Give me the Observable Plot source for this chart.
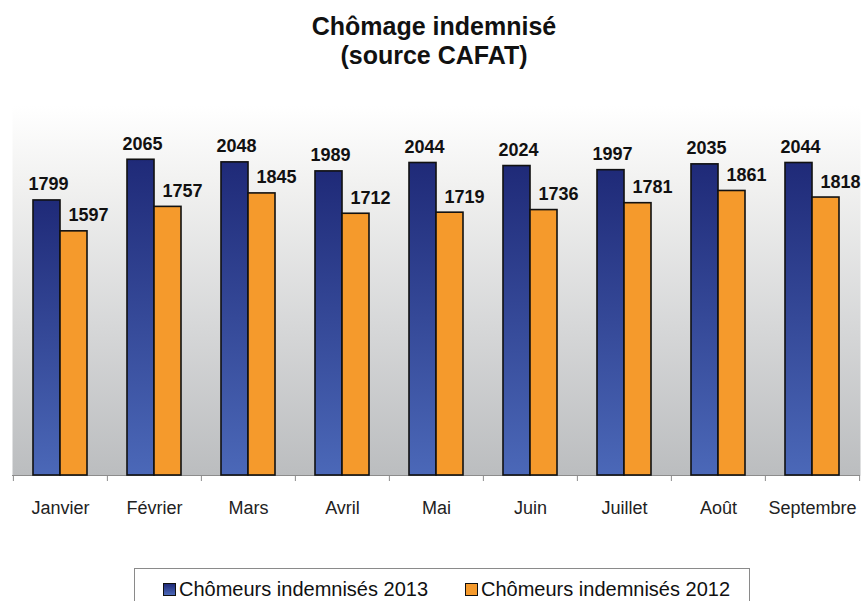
<!DOCTYPE html>
<html>
<head>
<meta charset="utf-8">
<script src="https://cdn.jsdelivr.net/npm/d3@7"></script>
<script src="https://cdn.jsdelivr.net/npm/@observablehq/plot@0.6"></script>
<style>
  html, body { margin: 0; padding: 0; background: #ffffff; }
  #page { position: relative; width: 862px; height: 601px; overflow: hidden; font-family: "Liberation Sans", Arial, sans-serif; }
  #title { position: absolute; left: 6px; top: 12px; width: 856px; text-align: center; font-weight: bold; font-size: 25px; line-height: 29px; color: #111; }
  #chart { position: absolute; left: 0; top: 90px; }
  #legend { position: absolute; left: 134px; top: 568px; width: 616px; height: 50px; box-sizing: border-box; border: 1px solid #8a8a8a; }
  .item { position: absolute; top: 9px; display: flex; align-items: center; font-size: 20px; line-height: 22px; color: #111; white-space: nowrap; }
  .sw { width: 11px; height: 11px; border: 1.5px solid #111; margin-right: 3px; }
</style>
</head>
<body>
<div id="page">
  <div id="title"></div>
  <div id="chart"></div>
  <div id="legend"></div>
</div>
<script>
const titleLines = ["Chômage indemnisé", "(source CAFAT)"];
const months = ["Janvier", "Février", "Mars", "Avril", "Mai", "Juin", "Juillet", "Août", "Septembre"];
const values2013 = [1799, 2065, 2048, 1989, 2044, 2024, 1997, 2035, 2044];
const values2012 = [1597, 1757, 1845, 1712, 1719, 1736, 1781, 1861, 1818];
const seriesNames = ["Chômeurs indemnisés 2013", "Chômeurs indemnisés 2012"];
const seriesColors = ["url(#blueGrad)", "#f59a2c"];

const rows2013 = months.map((m, i) => ({month: m, value: values2013[i]}));
const rows2012 = months.map((m, i) => ({month: m, value: values2012[i]}));

document.getElementById("title").innerHTML = titleLines.join("<br>");

const W = 862, H = 455, mL = 12, mR = 2;
const step = (W - mL - mR) / months.length;
const half = step * (1 - 0.427) / 2;

const chart = Plot.plot({
  width: W,
  height: H,
  marginTop: 15,
  marginBottom: 70,
  marginLeft: mL,
  marginRight: mR,
  style: {fontFamily: "'Liberation Sans', Arial, sans-serif", background: "transparent", overflow: "visible"},
  x: {domain: months, paddingInner: 0.427, paddingOuter: 0.2135, label: null},
  y: {domain: [0, 2420], axis: null},
  marks: [
    Plot.frame({fill: "url(#bgGrad)", stroke: "none"}),
    Plot.ruleY([0], {stroke: "#8c8c8c", strokeWidth: 1}),
    Plot.axisX({tickSize: 0, tickPadding: 26, fontSize: 18, fill: "#222", label: null}),
    Plot.axisX(months, {tickSize: 6, tickFormat: () => "", dx: -step / 2, stroke: "#8c8c8c", label: null}),
    Plot.axisX([months[months.length - 1]], {tickSize: 6, tickFormat: () => "", dx: step / 2, stroke: "#8c8c8c", label: null}),
    Plot.barY(rows2013, {x: "month", y: "value", fill: seriesColors[0], stroke: "#111", strokeWidth: 1.6, insetRight: half}),
    Plot.barY(rows2012, {x: "month", y: "value", fill: seriesColors[1], stroke: "#111", strokeWidth: 1.6, insetLeft: half}),
    Plot.text(rows2013, {x: "month", y: "value", text: d => String(d.value), dx: -half / 2 + 1.5, dy: -10, lineAnchor: "bottom", fontSize: 18, fontWeight: "bold", fill: "#111"}),
    Plot.text(rows2012, {x: "month", y: "value", text: d => String(d.value), dx: half / 2 + 14.5, dy: -10, lineAnchor: "bottom", fontSize: 18, fontWeight: "bold", fill: "#111"})
  ]
});

const svg = d3.select(chart.tagName.toLowerCase() === "svg" ? chart : chart.querySelector("svg"));
const defs = svg.insert("defs", ":first-child");
const bg = defs.append("linearGradient").attr("id", "bgGrad").attr("x1", 0).attr("y1", 0).attr("x2", 0).attr("y2", 1);
bg.append("stop").attr("offset", "0%").attr("stop-color", "#ffffff");
bg.append("stop").attr("offset", "20%").attr("stop-color", "#f2f2f1");
bg.append("stop").attr("offset", "60%").attr("stop-color", "#d6d7d8");
bg.append("stop").attr("offset", "100%").attr("stop-color", "#bbbdbf");
const bl = defs.append("linearGradient").attr("id", "blueGrad").attr("x1", 0).attr("y1", 0).attr("x2", 0).attr("y2", 1);
bl.append("stop").attr("offset", "0%").attr("stop-color", "#1f2a78");
bl.append("stop").attr("offset", "100%").attr("stop-color", "#4b68b8");

document.getElementById("chart").appendChild(chart);

const legend = document.getElementById("legend");
const legendLefts = [28, 330];
seriesNames.forEach((name, i) => {
  const item = document.createElement("div");
  item.className = "item";
  item.style.left = legendLefts[i] + "px";
  const sw = document.createElement("span");
  sw.className = "sw";
  sw.style.background = i === 0 ? "linear-gradient(#1f2a78, #4b68b8)" : seriesColors[1];
  const label = document.createElement("span");
  label.textContent = name;
  item.appendChild(sw);
  item.appendChild(label);
  legend.appendChild(item);
});
</script>
</body>
</html>
